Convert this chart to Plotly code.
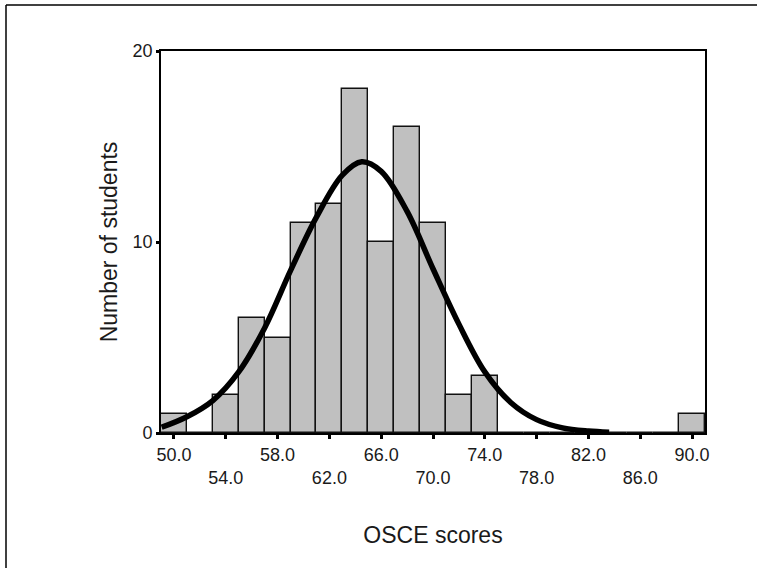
import plotly.graph_objects as go

# ---- data ----
bin_centers = [50, 52, 54, 56, 58, 60, 62, 64, 66, 68, 70, 72, 74, 76, 78, 80, 82, 84, 86, 88, 90]
counts = [1, 0, 2, 6, 5, 11, 12, 18, 10, 16, 11, 2, 3, 0, 0, 0, 0, 0, 0, 0, 1]
bin_width = 2

curve_x = [49.05, 51.0, 53.0, 55.0, 57.0, 59.0, 61.0, 63.0, 64.5, 66.0, 68.0, 70.0,
           72.0, 74.0, 76.0, 78.0, 80.0, 82.0, 83.6]
curve_y = [0.3, 0.85, 1.7, 3.2, 5.5, 8.5, 11.3, 13.5, 14.2, 13.7, 11.6, 8.6,
           5.7, 3.2, 1.6, 0.7, 0.27, 0.1, 0.04]

x_tickvals = [50, 54, 58, 62, 66, 70, 74, 78, 82, 86, 90]
x_ticklabels = ["50.0", "54.0", "58.0", "62.0", "66.0", "70.0", "74.0", "78.0", "82.0", "86.0", "90.0"]
y_tickvals = [0, 10, 20]
y_ticklabels = ["0", "10", "20"]

x_title = "OSCE scores"
y_title = "Number of students"

# staggered tick labels (every other label on a second row)
x_ticktext = [lab if i % 2 == 0 else "<br>" + lab for i, lab in enumerate(x_ticklabels)]

FONT = "Liberation Sans, Arial, sans-serif"
TXT = "#1a1a1a"

fig = go.Figure()
fig.add_trace(go.Bar(
    x=bin_centers, y=counts, width=bin_width,
    marker=dict(color="#c0c0c0", line=dict(color="#111111", width=1.4)),
    hoverinfo="x+y", showlegend=False,
))
fig.add_trace(go.Scatter(
    x=curve_x, y=curve_y, mode="lines",
    line=dict(color="black", width=5.5, shape="spline", smoothing=1.0),
    showlegend=False,
))

L, R, T, B = 161, 52, 51, 135
W, H = 757, 568
pw, ph = W - L - R, H - T - B

def px_to_paper_x(px):
    return (px - L) / pw

def px_to_paper_y(py):
    return (H - B - py) / ph

# outer frame lines (top and left) of the original figure
fig.add_shape(type="line", xref="paper", yref="paper",
              x0=px_to_paper_x(6), x1=px_to_paper_x(W + 5),
              y0=px_to_paper_y(5), y1=px_to_paper_y(5),
              line=dict(color="black", width=1.5))
fig.add_shape(type="line", xref="paper", yref="paper",
              x0=px_to_paper_x(6), x1=px_to_paper_x(6),
              y0=px_to_paper_y(5), y1=px_to_paper_y(H + 5),
              line=dict(color="black", width=1.5))

fig.update_layout(
    width=W, height=H,
    margin=dict(l=L, r=R, t=T, b=B, autoexpand=False),
    paper_bgcolor="white", plot_bgcolor="white",
    bargap=0,
    font=dict(family=FONT, size=18, color=TXT),
    xaxis=dict(
        range=[49, 91], tickmode="array", tickvals=x_tickvals, ticktext=x_ticktext,
        ticks="outside", ticklen=4, tickwidth=2.5, tickcolor="black",
        showline=True, linecolor="black", linewidth=1.8, mirror=True,
        showgrid=False, zeroline=False, automargin=False,
        tickfont=dict(family=FONT, size=18, color=TXT),
        title=dict(text=x_title, font=dict(family=FONT, size=23, color=TXT), standoff=40),
    ),
    yaxis=dict(
        range=[0, 20], tickmode="array", tickvals=y_tickvals, ticktext=y_ticklabels,
        ticks="outside", ticklen=3, tickwidth=3, tickcolor="black",
        showline=True, linecolor="black", linewidth=1.8, mirror=True,
        showgrid=False, zeroline=False, automargin=False,
        tickfont=dict(family=FONT, size=18, color=TXT),
        title=dict(text=y_title, font=dict(family=FONT, size=23, color=TXT), standoff=8),
    ),
)

fig.write_html("out.html")
